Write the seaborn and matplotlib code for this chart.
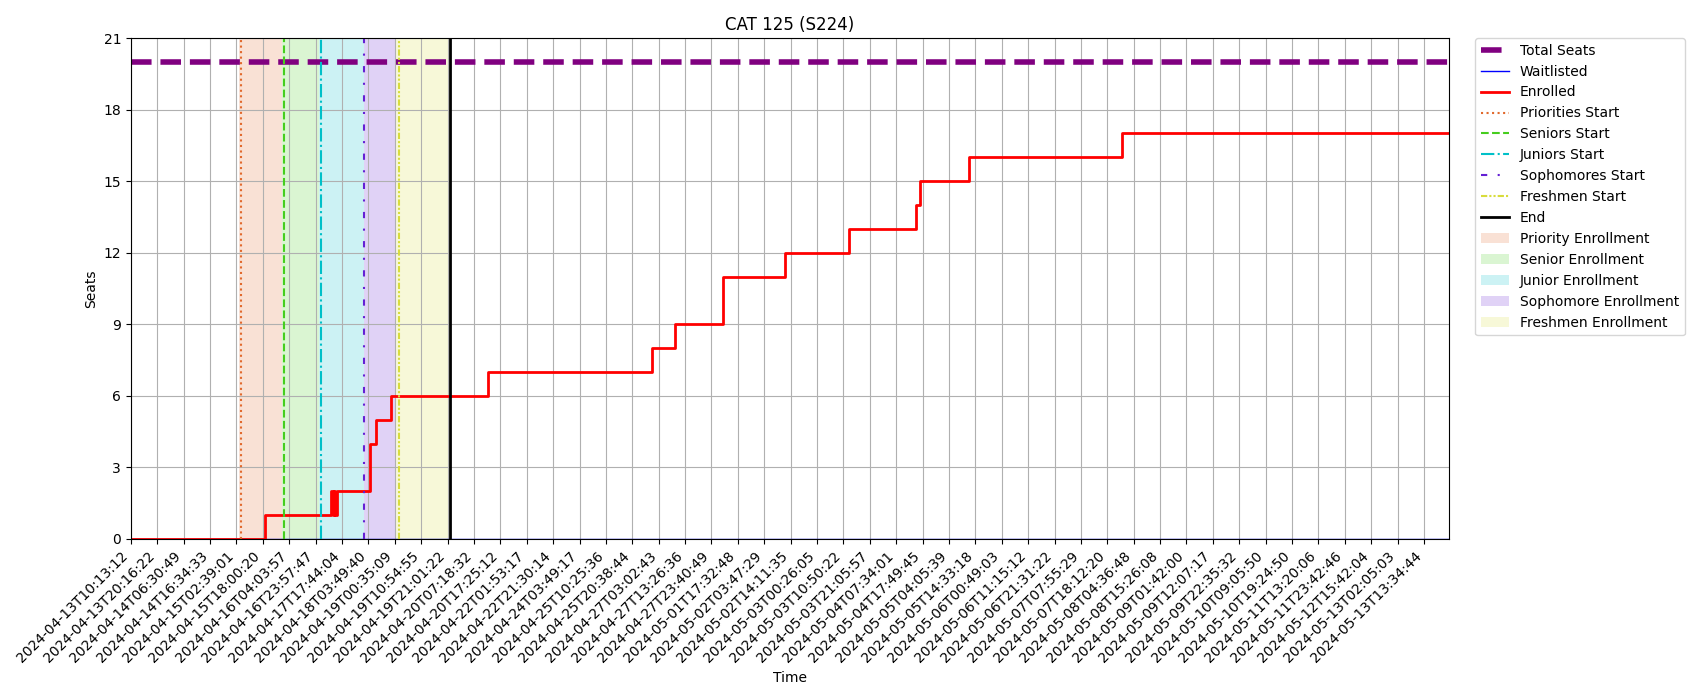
import matplotlib
matplotlib.use("Agg")
import matplotlib.pyplot as plt
import seaborn as sns
import numpy as np

# one tick label every 20 samples, 1000 samples in total
tick_labels = [
    "2024-04-13T10:13:12", "2024-04-13T20:16:22", "2024-04-14T06:30:49", "2024-04-14T16:34:33",
    "2024-04-15T02:39:01", "2024-04-15T18:00:20", "2024-04-16T04:03:57", "2024-04-16T23:57:47",
    "2024-04-17T17:44:04", "2024-04-18T03:49:40", "2024-04-19T00:35:09", "2024-04-19T10:54:55",
    "2024-04-19T21:01:22", "2024-04-20T07:18:32", "2024-04-20T17:25:12", "2024-04-22T01:53:17",
    "2024-04-22T21:30:14", "2024-04-24T03:49:17", "2024-04-25T10:25:36", "2024-04-25T20:38:44",
    "2024-04-27T03:02:43", "2024-04-27T13:26:36", "2024-04-27T23:40:49", "2024-05-01T17:32:48",
    "2024-05-02T03:47:29", "2024-05-02T14:11:35", "2024-05-03T00:26:05", "2024-05-03T10:50:22",
    "2024-05-03T21:05:57", "2024-05-04T07:34:01", "2024-05-04T17:49:45", "2024-05-05T04:05:39",
    "2024-05-05T14:33:18", "2024-05-06T00:49:03", "2024-05-06T11:15:12", "2024-05-06T21:31:22",
    "2024-05-07T07:55:29", "2024-05-07T18:12:20", "2024-05-08T04:36:48", "2024-05-08T15:26:08",
    "2024-05-09T01:42:00", "2024-05-09T12:07:17", "2024-05-09T22:35:32", "2024-05-10T09:05:50",
    "2024-05-10T19:24:50", "2024-05-11T13:20:06", "2024-05-11T23:42:46", "2024-05-12T15:42:04",
    "2024-05-13T02:05:03", "2024-05-13T13:34:44",
]
tick_every = 20
n_samples = 1000

# enrolled count at the sample where it changes
enrolled_idx = [0, 102, 152, 153, 154, 155, 156, 181, 186, 197, 271, 395, 412, 449,
                496, 544, 595, 598, 635, 751, 999]
enrolled_val = [0, 1, 2, 1, 2, 1, 2, 4, 5, 6, 7, 8, 9, 11,
                12, 13, 14, 15, 16, 17, 17]

waitlist_idx = [0, 999]
waitlist_val = [0, 0]

total_seats = 20

# enrollment phase start lines (sample index)
phase_starts = [83.4, 115.8, 143.9, 176.7, 203.3]
end_idx = 241.9
phase_spans = [(82.1, 114.8), (114.8, 142.8), (142.8, 176.7), (176.7, 200.8), (200.8, 241.9)]

start_labels = ["Priorities Start", "Seniors Start", "Juniors Start", "Sophomores Start", "Freshmen Start"]
span_labels = ["Priority Enrollment", "Senior Enrollment", "Junior Enrollment",
               "Sophomore Enrollment", "Freshmen Enrollment"]
phase_colors = ["#e1692d", "#46cd1e", "#00c0c8", "#6420d4", "#d8dc3c"]
phase_styles = [":", "--", "-.", (0, (3, 5, 1, 5)), (0, (3, 1, 1, 1, 1, 1))]

fig, ax = plt.subplots(figsize=(17, 7), dpi=100)

sns.lineplot(x=[0, n_samples - 1], y=[total_seats, total_seats], ax=ax, color="purple",
             linestyle="--", linewidth=4, label="Total Seats", estimator=None, sort=False)
sns.lineplot(x=waitlist_idx, y=waitlist_val, ax=ax, color="blue", linewidth=1,
             label="Waitlisted", estimator=None, sort=False)
sns.lineplot(x=enrolled_idx, y=enrolled_val, ax=ax, color="red", linewidth=2,
             drawstyle="steps-post", label="Enrolled", estimator=None, sort=False)

for pos, lab, col, ls in zip(phase_starts, start_labels, phase_colors, phase_styles):
    ax.axvline(pos, color=col, linestyle=ls, linewidth=1.5, label=lab)
ax.axvline(end_idx, color="black", linewidth=2, label="End")

for (a, b), lab, col in zip(phase_spans, span_labels, phase_colors):
    ax.axvspan(a, b, color=col, alpha=0.2, linewidth=0, label=lab)

ax.set_xlim(0, n_samples - 1)
ax.set_ylim(0, 21)
ax.set_yticks(np.arange(0, 22, 3))
ax.set_xticks(np.arange(0, n_samples, tick_every))
ax.set_xticklabels(tick_labels, rotation=45, ha="right")
ax.grid(True)
ax.set_title("CAT 125 (S224)")
ax.set_xlabel("Time")
ax.set_ylabel("Seats")
ax.legend(bbox_to_anchor=(1.02, 1), loc="upper left", borderaxespad=0)

plt.subplots_adjust(left=0.077, right=0.8524, top=0.9457, bottom=0.23)
plt.savefig("out.png")
